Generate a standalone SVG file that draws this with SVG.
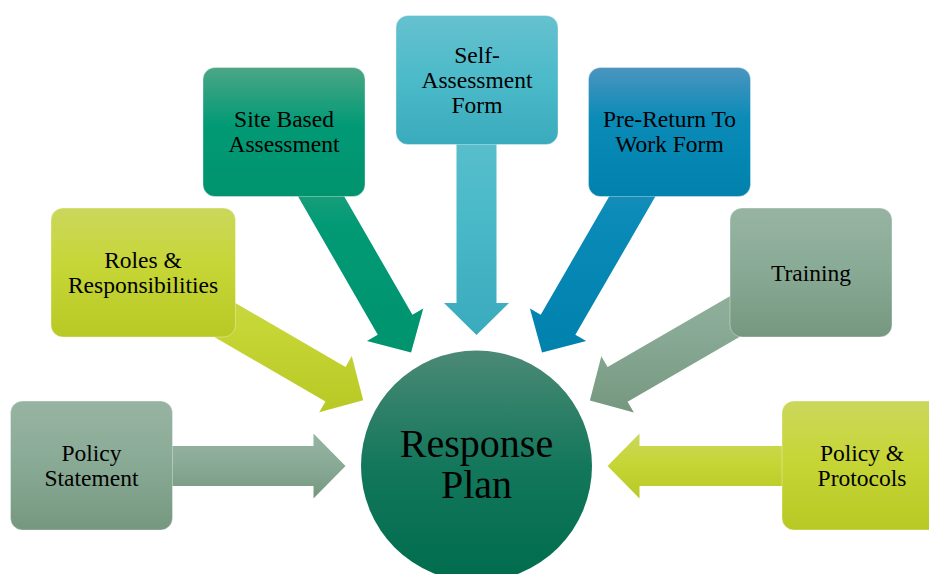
<svg xmlns="http://www.w3.org/2000/svg" width="929" height="574" viewBox="0 0 929 574">
  <defs>
    <linearGradient id="gSage" x1="0" y1="0" x2="0" y2="1">
      <stop offset="0" stop-color="#97b4a2"/>
      <stop offset="0.5" stop-color="#88aa95"/>
      <stop offset="1" stop-color="#76977f"/>
    </linearGradient>
    <linearGradient id="gLime" x1="0" y1="0" x2="0" y2="1">
      <stop offset="0" stop-color="#cbd75c"/>
      <stop offset="0.45" stop-color="#c6d636"/>
      <stop offset="1" stop-color="#b8c824"/>
    </linearGradient>
    <linearGradient id="gTeal" x1="0" y1="0" x2="0" y2="1">
      <stop offset="0" stop-color="#4ca686"/>
      <stop offset="0.45" stop-color="#019a75"/>
      <stop offset="1" stop-color="#00936e"/>
    </linearGradient>
    <linearGradient id="gAqua" x1="0" y1="0" x2="0" y2="1">
      <stop offset="0" stop-color="#66c1cf"/>
      <stop offset="0.5" stop-color="#4bbac9"/>
      <stop offset="1" stop-color="#3aabbd"/>
    </linearGradient>
    <linearGradient id="gBlue" x1="0" y1="0" x2="0" y2="1">
      <stop offset="0" stop-color="#4b95bf"/>
      <stop offset="0.4" stop-color="#0a8bb8"/>
      <stop offset="1" stop-color="#0082ad"/>
    </linearGradient>
    <linearGradient id="gHub" x1="0" y1="0" x2="0" y2="1">
      <stop offset="0" stop-color="#4b8975"/>
      <stop offset="0.5" stop-color="#13775b"/>
      <stop offset="1" stop-color="#006c4e"/>
    </linearGradient>
  </defs>
  <style>
    .box { stroke: #ffffff; stroke-opacity: 0.35; stroke-width: 1; }
    .lbl { font-family: "Liberation Serif", "Times New Roman", serif; font-size: 23.5px; fill: #000; text-anchor: middle; }
    .hub { font-family: "Liberation Serif", "Times New Roman", serif; font-size: 40px; fill: #000; text-anchor: middle; }
  </style>

  <!-- block arrows pointing at the hub -->
  <g id="connectors">
    <polygon fill="url(#gSage)" points="91,446 313.5,446 313.5,433.5 345.5,466 313.5,498.5 313.5,486 91,486"/>
    <polygon fill="url(#gLime)" points="863,446 639.5,446 639.5,433.5 607.5,466 639.5,498.5 639.5,486 863,486"/>
    <polygon fill="url(#gAqua)" points="456.5,80 456.5,303 444,303 476.5,335 509,303 496.5,303 496.5,80"/>
    <polygon fill="url(#gTeal)" points="266.67,141.99 377.77,334.77 366.94,341.01 411.08,352.5 423.26,308.55 412.43,314.79 301.33,122.01"/>
    <polygon fill="url(#gBlue)" points="652.18,121.99 540.73,314.85 529.91,308.6 542.04,352.57 586.19,341.12 575.37,334.87 686.82,142.01"/>
    <polygon fill="url(#gLime)" points="132.96,289.8 325.47,401.49 319.2,412.3 363.19,400.25 351.82,356.08 345.55,366.89 153.04,255.2"/>
    <polygon fill="url(#gSage)" points="800.99,255.19 607.58,367.08 601.32,356.26 589.89,400.41 633.86,412.52 627.6,401.7 821.01,289.81"/>
  </g>

  <g id="policy-statement">
    <rect class="box" x="10.5" y="401" width="162" height="129" rx="12" fill="url(#gSage)"/>
    <text class="lbl" x="91.5" y="461">Policy</text>
    <text class="lbl" x="91.5" y="486">Statement</text>
  </g>

  <g id="roles-responsibilities">
    <rect class="box" x="51" y="208" width="184.5" height="129" rx="12" fill="url(#gLime)"/>
    <text class="lbl" x="143" y="268">Roles &amp;</text>
    <text class="lbl" x="143" y="292.5">Responsibilities</text>
  </g>

  <g id="site-based-assessment">
    <rect class="box" x="203" y="67.5" width="162" height="129" rx="12" fill="url(#gTeal)"/>
    <text class="lbl" x="284" y="126.5">Site Based</text>
    <text class="lbl" x="284" y="151.5">Assessment</text>
  </g>

  <g id="self-assessment-form">
    <rect class="box" x="396" y="15.5" width="162" height="129" rx="12" fill="url(#gAqua)"/>
    <text class="lbl" x="477" y="63">Self-</text>
    <text class="lbl" x="477" y="88">Assessment</text>
    <text class="lbl" x="477" y="112.5">Form</text>
  </g>

  <g id="pre-return-to-work-form">
    <rect class="box" x="588.5" y="67.5" width="162" height="129" rx="12" fill="url(#gBlue)"/>
    <text class="lbl" x="669.5" y="126.5">Pre-Return To</text>
    <text class="lbl" x="669.5" y="151.5">Work Form</text>
  </g>

  <g id="training">
    <rect class="box" x="730" y="208" width="162" height="129" rx="12" fill="url(#gSage)"/>
    <text class="lbl" x="811" y="281">Training</text>
  </g>

  <g id="policy-protocols">
    <rect class="box" x="782" y="401" width="162" height="129" rx="12" fill="url(#gLime)"/>
    <text class="lbl" x="862" y="461">Policy &amp;</text>
    <text class="lbl" x="862" y="485.5">Protocols</text>
  </g>

  <g id="response-plan">
    <circle cx="476.5" cy="466" r="115.5" fill="url(#gHub)"/>
    <text class="hub" x="476.5" y="457">Response</text>
    <text class="hub" x="476.5" y="498">Plan</text>
  </g>
</svg>
